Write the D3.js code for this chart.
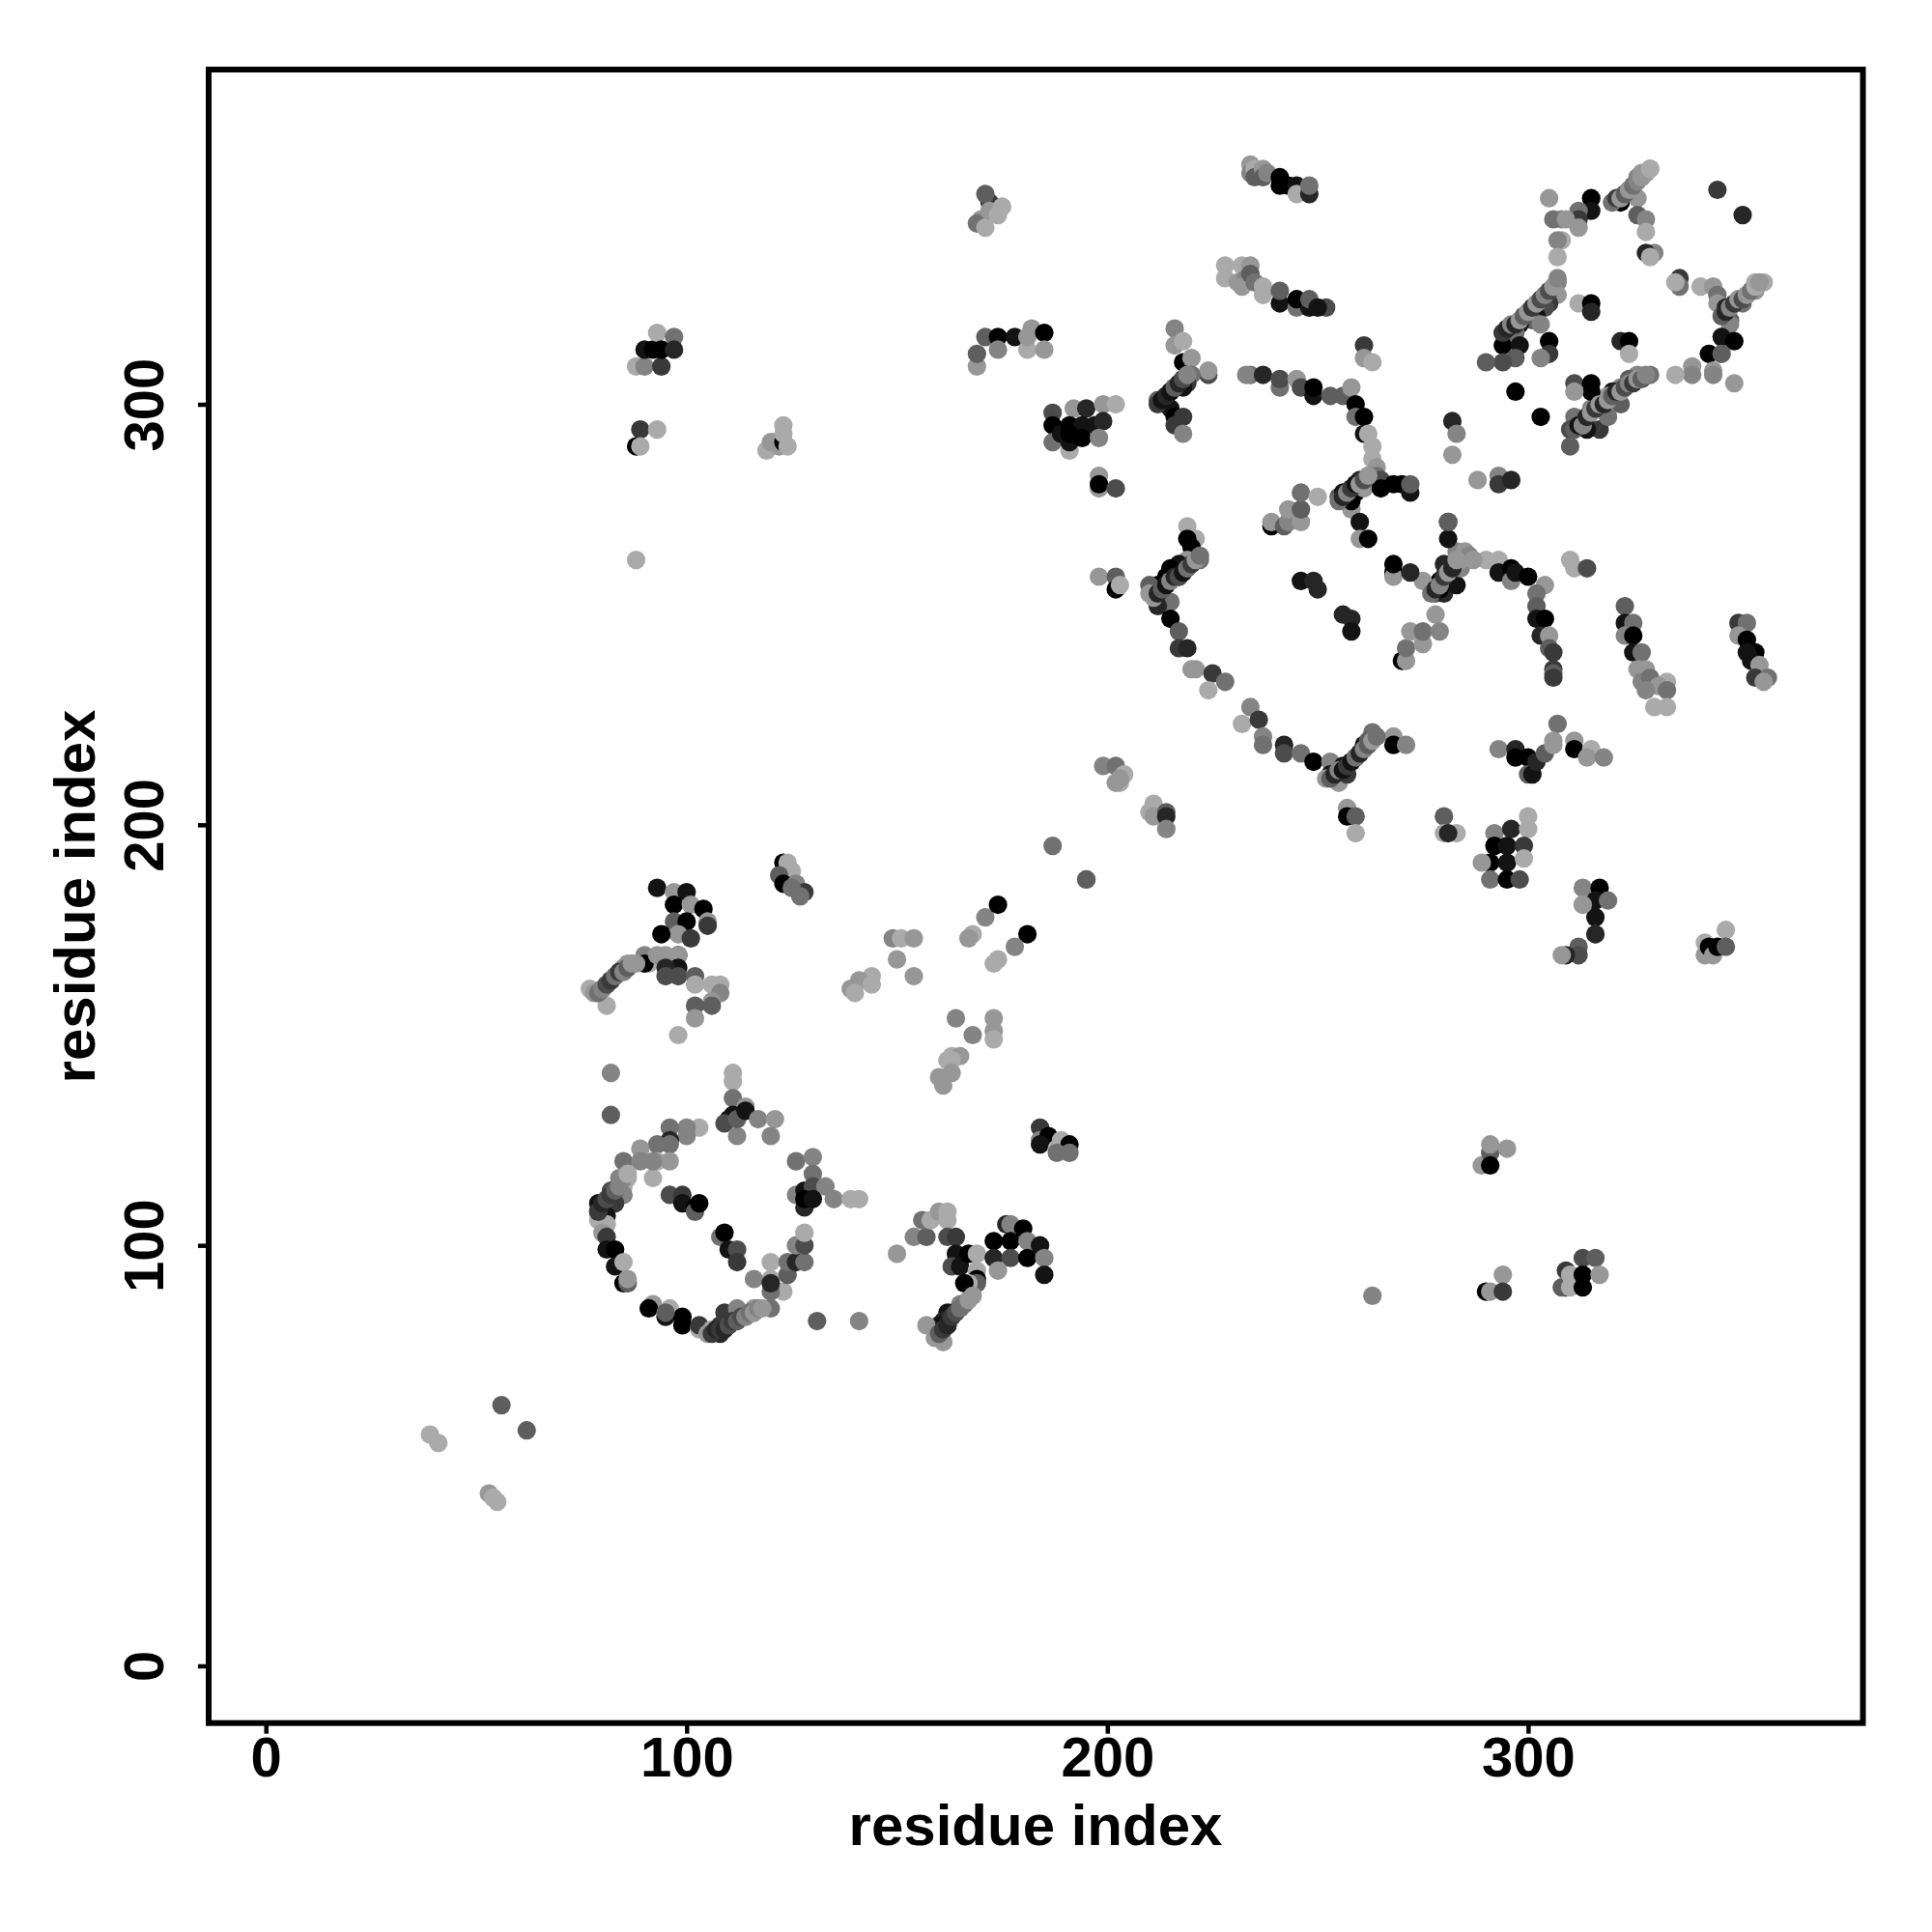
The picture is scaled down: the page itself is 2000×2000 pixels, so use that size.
<!DOCTYPE html>
<html><head><meta charset="utf-8">
<script src="https://cdn.jsdelivr.net/npm/d3@7/dist/d3.min.js"></script>
<style>html,body{margin:0;background:#fff}svg{display:block}</style></head>
<body><svg id="chart" width="2000" height="2000"></svg>
<script>
const tickLabels = [0, 100, 200, 300];
const axisTitle = "residue index";

// Each line is one cluster of contacts; the three lists run in parallel.
const residueI = [
[234,234,235,235,237,237,238,241,241,243,245,245,248,248],
[228,228,232,234,231,233,232,234,235,237,237,241,241,245,245,248,248,252,250],
[216,216,218,218,220,224,224,218,220,219,218,216,215,214,213,212,214,215,216,216,218,218],
[187,187,187,191,192,195,199,202,191,189,191,194,197,199,194,198,191],
[234,233,237,241,241,245,246,249,249,253,256,258,259,259,261,261,262,263,263,264,264],
[255,256,256,257,258,258,258,259,259,260,261,262,263,265,265,268,270,272,272],
[239,239,242,243,243,246,246,246,250],
[260,260,262],
[278,278,279,280,280,281,282,283,282,284,284,283,285,286,279,275,281,281,281,280],
[268,268,268,272],
[290,293,287,293,296,296,297,300,304,302,302,302,304,303,305,305,306,306,306,306],
[310,311,314],
[323,323,325,323,325,325,327,326,328,327,329,333,331,333,330,333,328],
[350,352,350,352,354,352,353,355,354,357,356],
[219,221,219,220,222,219,217,215,217,214,212,210,210,212,215,212,215,217,217,219],
[220,221,225,228,224,234,232,236,237,237,242,242,246,249],
[253,253,255,255,256,258,259,261,263,257,260,262,268,268,271],
[293,297,297,300,300,301,301,302,304,306,307,306,311,311,315,314,318],
[199,202,204,203,202,203],
[211,210,211,214,214,214],
[257,257,259,259],
[280,280,283,281],
[292,296,300,300,292,295,299,291,289,295,299,291,295,298],
[195],
[313,317,313,316,319,316,313,316,316,312,312,309,308],
[342,342,343,344,345,347,347],
[305,315,315,312,312,312,308,306,309,320,322,323,322,324,325,326,327,329,327,326,326,328,328,308,307,307,330,328,329],
[345,351],
[336,336,335,341,344,345,345,354,356,354,352,350,347,351,348,348,346,349,343,343,346,344,339,339,335,349,344],
[307,307,305,304,302,301,299,298,297,303,294,294,298,305,305,303,297,294,290,312,315,315,322,324,324],
[329,326,324,322,320,319,317,315,311,315,315,311,311,314,317,314,310,310,322,319,297,303],
[282,283,282,288,293,293,296],
[198,198,198,202],
[261,261,263],
[169,169,171,174,174,178,181,182,181,185,185],
[170,169,171,172,171,172,175,174],
[88,90,90,92,93,94,94,97,97],
[89,88,89,93],
[119,120,121,122,123,124,123,123],
[88],
[93,97,100,97,101,104,97,100,105,105,98,94,101,98],
[90,91,90,93,95,98,98,95,98,95,102,102],
[77,79,81,81,82,84,80,85,86,83,82],
[106,108,108,106,106,102,102,98],
[123,124,125,122,123,126,128,125,127],
[149,151,154,150,154,144,141,139,140,144],
[168,167,171,174,181,178,174,173],
[164,173,168,173,173,163,165],
[187,195],
[82,82],
[111,111,111,114,111,110,109,112,112,114,117,121,120],
[103,100,96,100,96,96,93,89],
[85,89,93,96,92,92,86,84,85,85,82,79,81,83,79,81,79,81,80,81,81,83],
[83,85,85,86,86],
[92,91,95,96,99,99,95,103,103,106,108,108,110,109,112,112,116,116,120],
[123,120,120,120,116,120,124,124,126,128,126,128,128],
[131,141],
[96,99,99,102,102,103],
[108,109,110,112,112],
[126,130,130,126,128,130,133,128,128,130,135,139,141],
[150,154,157,156,158,160,162,162,162,164,164,163,165,167,169,169,169,169,167,166],
[167,165,163,162,161,160,157,162,160,161],
[176,177,180,173,177,181,184,173,177,181,185,174,185],
[184,184,186,184,188,189,191,191,188],
[163,162,163,160,161],
[289,291,291,291,295],
[290,291,294,294],
[263],
[309,309,308,310,310,313,313,313,316,317],
[39,41,56,62,53,55,54],
[198,202,202,203],
[246,249,250],
[256,258,258],
[270,271,271,275,272,275,278,279],
[294,295,296,297,298,299,300,301,302,303,304,305,306,307],
[311,312,313,314,315,316,317,318,319,320,321,322,323,324,325,326,327,328],
[320,321,322,323,324,325,326,327,328,329,329],
[346,347,348,349,350,351,352,353,354,355],
[252,253,254,255,256,257,258,259,260,261,262,263,264],
[211,212,213,214,215,216,217,218,219,220,221,222],
[277,278,279,280,281,282,283],
[255,256,257,258,259,260,261,262],
[78,79,80,81,82,83,84,85,86,87,88],
[105,106,107,108,109,110,111,112,113,114,115,116,117,118],
[79,80,81,82,83,84,85,86],
[159,160,161,162,163,164,165,166,167,168],
[212,213,214,215,216,217,218,219]
];
const residueJ = [
[357,355,356,354,356,354,355,352,354,352,352,350,350,352],
[333,330,333,333,329,330,328,331,329,328,326,324,327,323,325,323,325,323,323],
[318,314,315,310,311,307,308,306,307,305,304,304,303,302,301,301,300,299,297,295,297,293],
[298,295,291,289,299,299,300,300,291,293,295,295,295,296,292,292,293],
[307,307,307,304,306,306,304,302,304,302,302,304,300,297,297,293,293,290,287,285,283],
[278,277,279,278,275,280,277,279,281,282,280,283,282,282,280,281,281,279,281],
[271,272,271,272,275,272,275,279,278],
[272,268,268],
[255,257,258,255,259,260,258,257,262,261,263,265,265,264,256,258,268,272,272,262],
[260,259,262,260],
[263,263,263,260,261,258,260,259,257,255,252,249,249,245,245,242,241,237,236,235],
[263,261,261],
[252,248,248,245,245,241,241,237,237,234,235,234,233,232,228,228,232],
[248,248,245,244,241,241,239,238,235,235,234],
[271,268,268,266,263,263,262,261,259,259,257,257,255,255,253,252,249,246,242,242],
[237,237,236,234,232,228,224,225,221,219,219,217,217,215],
[215,212,211,210,214,215,216,219,222,212,217,220,221,219,219],
[218,218,216,216,212,212,212,215,217,219,224,220,220,218,218,216,216],
[214,214,212,210,210,211],
[205,203,202,203,202,199],
[204,202,202,198],
[202,198,198,198],
[198,199,202,199,195,195,195,191,191,191,192,187,187,187],
[187],
[185,185,181,182,182,178,181,174,174,171,169,169,169],
[172,169,171,169,171,175,171],
[349,349,346,346,344,342,344,344,344,348,349,350,348,351,352,354,355,356,354,349,345,344,341,339,339,335,336,336,335],
[351,345],
[330,328,329,328,328,326,324,329,329,327,326,325,323,324,320,319,316,315,312,312,312,308,309,307,307,305,307],
[329,326,324,323,321,320,321,319,317,319,317,314,314,315,312,311,311,310,310,324,324,322,315,315,312],
[307,307,306,304,303,302,300,299,305,305,303,303,297,297,294,294,294,290,300,297,303,297],
[296,293,288,282,283,281,282],
[283,280,281,280],
[314,311,310],
[309,312,316,316,313,316,313,318,316,317,313],
[344,343,342,348,350,346,347,345],
[309,309,313,313,317,309,313,316,313],
[294,290,290,294],
[289,291,291,290,291,290,295,293],
[263],
[185,184,184,181,181,180,177,177,177,176,174,174,173,169],
[169,167,167,169,169,169,166,166,164,164,164,162],
[161,160,157,162,163,165,161,166,167,164,163],
[162,162,160,158,157,157,154,150],
[191,191,189,188,186,186,184,185,183],
[173,173,173,168,164,164,163,161,160,162],
[174,173,178,181,174,171,168,167],
[154,154,150,151,149,145,145],
[195,187],
[141,131],
[141,139,135,133,131,130,129,126,130,132,130,130,126],
[128,128,128,126,125,124,124,123],
[120,120,120,120,116,120,116,116,114,112,113,110,110,110,108,107,106,105,103,102,99,99],
[95,96,91,91,92],
[86,85,83,85,83,81,84,80,81,80,79,81,81,84,82,85,85,84,85],
[89,89,92,96,92,91,93,96,96,96,100,100,103],
[82,82],
[112,112,110,109,108,110],
[102,103,99,99,96],
[120,121,117,112,113,114,114,109,111,111,111,111,111],
[98,102,102,106,106,108,108,106,102,102,98,95,95,98,98,94,92,91,91,91],
[87,86,84,84,82,81,81,81,79,77],
[105,105,104,101,101,101,100,97,97,97,97,94,93],
[128,125,126,124,123,125,124,122,122],
[144,144,141,140,138],
[119,122,119,124,123],
[89,89,93,89],
[88],
[90,94,90,90,93,97,93,90,97,93],
[55,53,62,56,41,39,40],
[259,259,256,257],
[258,258,256],
[250,249,246],
[239,239,242,243,246,246,250,246],
[317,318,319,319,320,321,322,323,324,325,326,327,328,330],
[294,295,295,297,298,299,300,300,301,302,303,303,304,305,305,306,306,307],
[348,349,349,350,351,352,353,354,355,356,356],
[321,322,323,324,325,325,326,327,328,329],
[211,211,212,213,213,214,215,216,217,218,219,220,221],
[254,255,256,257,258,259,259,260,261,262,263,264],
[255,256,257,259,260,261,263],
[277,278,279,280,281,281,282,283],
[160,160,161,162,163,164,165,165,166,167,167],
[79,79,80,80,80,81,82,82,83,83,84,84,85,85],
[108,110,111,112,113,114,116,117],
[78,79,80,81,83,84,85,86,87,88],
[300,301,302,303,304,305,306,307]
];
const shadeLevel = [
[8,7,9,5,8,5,7,0,0,0,1,9,2,6],
[9,9,9,8,8,7,8,5,6,9,9,1,5,6,0,1,5,4,1],
[7,8,9,0,8,4,8,5,6,3,1,2,0,1,3,5,0,1,0,3,3,7],
[4,0,6,9,8,2,8,9,1,1,0,1,1,2,0,7,0],
[6,7,2,6,4,8,4,1,0,5,5,8,0,6,0,1,9,9,9,8,6],
[5,8,1,0,8,1,0,0,1,2,8,7,8,4,0,0,0,1,5],
[0,8,5,7,8,8,5,6,9],
[1,8,0],
[5,1,0,2,1,3,2,1,8,7,8,7,8,7,0,8,1,1,5,2],
[0,8,0,2],
[9,9,8,1,0,7,1,0,8,6,5,1,0,2,8,5,3,3,5,3],
[9,9,4],
[5,1,6,7,0,1,6,8,8,7,6,9,8,6,9,9,7],
[3,6,8,0,0,1,1,8,3,6,8],
[9,9,0,0,6,8,1,0,0,0,0,5,8,1,6,2,0,5,3,2],
[8,8,3,6,9,7,9,3,7,6,2,4,6,0],
[7,1,6,8,1,0,0,1,6,3,0,5,8,0,7],
[7,2,0,0,5,8,1,2,5,8,6,8,8,0,9,8,7],
[7,6,9,9,8,8],
[9,9,8,5,2,7],
[8,0,5,9],
[5,9,9,2],
[7,2,9,9,0,1,3,0,8,1,9,6,0,4],
[5],
[7,0,8,1,6,1,8,9,2,5,4,2,8],
[9,8,0,8,0,9,5],
[8,0,1,6,3,8,7,6,8,7,5,1,0,6,7,7,8,9,9,8,5,7,9,9,7,9,7,2,9],
[3,2],
[3,6,9,9,8,6,8,9,9,8,8,7,2,6,5,7,1,0,8,0,5,8,8,7,9,8,7],
[7,8,3,4,1,5,5,1,6,7,3,0,1,0,3,7,5,4,5,9,0,2,2,0,9],
[6,7,5,7,1,8,2,7,4,0,0,8,6,0,3,1,4,5,5,6,0,0],
[2,7,8,8,7,3,2],
[8,8,0,4],
[3,8,9],
[8,5,5,0,7,1,9,8,8,0,8],
[8,6,9,3,5,8,9,9],
[9,7,1,0,9,3,0,6,2],
[3,0,9,9],
[9,8,8,8,0,9,9,9],
[9],
[1,8,1,0,8,0,5,0,8,3,8,0,3,0],
[7,9,0,8,8,8,1,2,4,4,5,9],
[9,8,9,6,1,3,7,8,8,6,5],
[9,9,7,8,5,5,8,9],
[0,9,9,5,0,7,3,6,6],
[7,9,8,8,8,9,8,8,9,9],
[9,8,7,0,0,7,9,9],
[7,8,7,8,9,9,8],
[6,5],
[7,5],
[9,9,6,8,1,1,4,7,5,1,7,8,7],
[9,7,6,7,2,6,6,8],
[6,7,9,8,9,7,9,7,9,7,4,1,2,3,3,1,9,9,8,3,1,0],
[1,9,0,5,8],
[8,0,1,9,0,0,5,9,3,9,2,3,1,3,3,7,8,7,6],
[9,6,9,9,7,2,5,6,2,6,7,4,9],
[5,7],
[4,3,1,0,5,0],
[6,0,1,4,3],
[6,7,6,7,1,4,7,2,0,1,7,9,9],
[8,7,5,6,9,8,9,9,4,3,1,4,1,0,9,9,0,5,9,0],
[8,7,7,1,2,1,8,3,8,8],
[2,7,0,0,0,7,1,2,4,0,7,8,1],
[3,7,0,1,9,9,0,6,6],
[9,9,8,8,8],
[8,5,0,8,8],
[0,8,8,3],
[7],
[0,3,5,9,9,4,0,0,5,8],
[9,9,5,5,8,9,9],
[8,5,0,9],
[1,2,2],
[2,2,1],
[0,8,6,8,8,6,8,7],
[3,2,7,2,8,5,8,3,8,4,7,4,8,7],
[5,1,7,2,8,3,8,2,8,5,2,8,4,7,3,8,5,7],
[6,3,8,5,8,6,7,8,8,9,9],
[5,2,7,3,8,4,8,6,9,8],
[8,5,2,7,1,3,1,6,2,7,5,8,6],
[8,2,5,1,7,2,4,1,6,3,8,6],
[6,2,7,3,8,2,8],
[6,2,7,3,1,8,4,8],
[8,6,7,4,3,6,3,7,5,8,8],
[8,3,2,3,2,4,3,5,4,7,6,8,7,8],
[3,2,4,3,5,7,7,9],
[8,5,3,2,3,4,6,6,8,8],
[3,1,2,1,5,2,4,7]
];

const width = 2000, height = 2000;
const x = d3.scaleLinear().domain([-13.6, 379.7]).range([216, 1929]);
const y = d3.scaleLinear().domain([-13.6, 379.6]).range([1783.7, 72]);
const grey = d3.scaleLinear().domain([0, 9]).range(["#000000", "#aaaaaa"]);
const contacts = residueI.flatMap((c, k) => d3.zip(c, residueJ[k], shadeLevel[k]));

const svg = d3.select("#chart");
const font = '"Liberation Sans", Arial, sans-serif';

svg.append("g").selectAll("circle").data(contacts).join("circle")
  .attr("cx", d => x(d[0])).attr("cy", d => y(d[1])).attr("r", 9.6)
  .attr("fill", d => grey(d[2]));

svg.append("rect").attr("x", 216).attr("y", 72).attr("width", 1712.5).attr("height", 1711.7)
  .attr("fill", "none").attr("stroke", "#000").attr("stroke-width", 6);

function styleAxis(g) {
  g.select(".domain").remove();
  g.selectAll(".tick line").attr("stroke", "#000").attr("stroke-width", 4.5);
  g.selectAll(".tick text").attr("font-family", font).attr("font-weight", 700)
    .attr("font-size", 58).attr("fill", "#000");
}
const gx = svg.append("g").attr("transform", "translate(0,1783.7)")
  .call(d3.axisBottom(x).tickValues(tickLabels).tickSize(11).tickSizeOuter(0).tickPadding(6)).call(styleAxis);
gx.selectAll(".tick text").attr("dy", null).attr("y", 55);
const gy = svg.append("g").attr("transform", "translate(216,0)")
  .call(d3.axisLeft(y).tickValues(tickLabels).tickSize(11).tickSizeOuter(0)).call(styleAxis);
gy.selectAll(".tick text").attr("dy", null).attr("x", null)
  .attr("text-anchor", "middle").attr("transform", "translate(-47,0) rotate(-90)");

svg.append("text").attr("x", 1072).attr("y", 1910).attr("text-anchor", "middle")
  .attr("font-family", font).attr("font-weight", 700).attr("font-size", 60).text(axisTitle);
svg.append("text").attr("transform", "translate(98,928) rotate(-90)").attr("text-anchor", "middle")
  .attr("font-family", font).attr("font-weight", 700).attr("font-size", 60).text(axisTitle);
</script></body></html>
